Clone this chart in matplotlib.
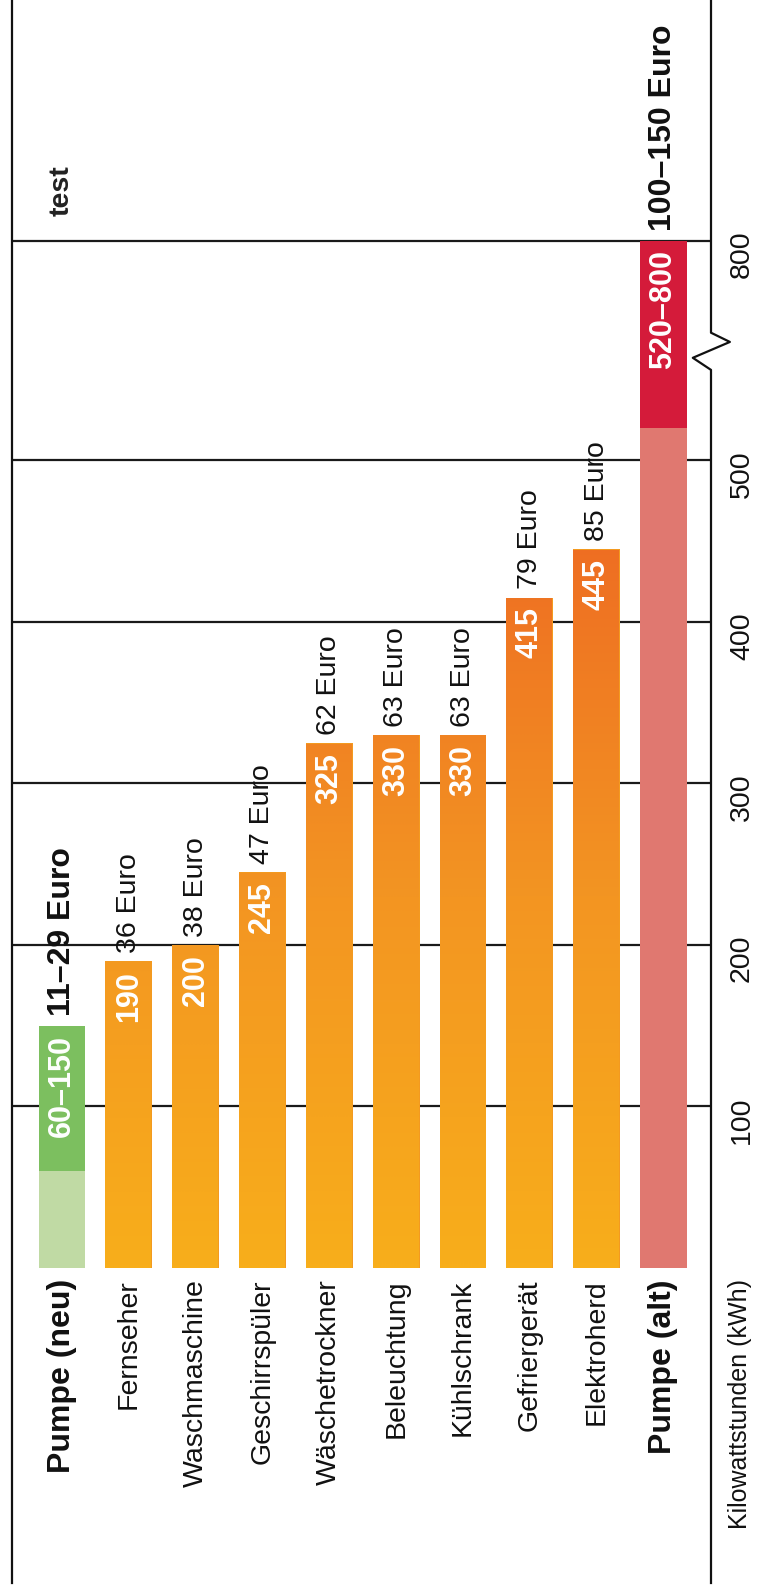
import numpy as np
import matplotlib
matplotlib.use('Agg')
import matplotlib.pyplot as plt
from matplotlib.colors import LinearSegmentedColormap

plt.rcParams['font.family'] = ['Liberation Sans', 'DejaVu Sans']

# data
appliances = ['Fernseher', 'Waschmaschine', 'Geschirrspüler', 'Wäschetrockner',
              'Beleuchtung', 'Kühlschrank', 'Gefriergerät', 'Elektroherd']
appliance_kwh = [190, 200, 245, 325, 330, 330, 415, 445]
appliance_euro = [36, 38, 47, 62, 63, 63, 79, 85]
pump_labels = ['Pumpe (neu)', 'Pumpe (alt)']
pump_kwh_min = [60, 520]
pump_kwh_max = [150, 800]
pump_euro = ['11–29', '100–150']
grid_ticks = [100, 200, 300, 400, 500, 800]

# broken axis: everything above BREAK is squeezed
BREAK = 560
K = 0.317


def fwd(v):
    v = np.asarray(v, dtype=float)
    return np.where(v <= BREAK, v, BREAK + (v - BREAK) * K)


def inv(u):
    u = np.asarray(u, dtype=float)
    return np.where(u <= BREAK, u, BREAK + (u - BREAK) / K)


fig = plt.figure(figsize=(7.59, 15.92), dpi=100)
ax = fig.add_axes([12 / 759, 9 / 1592, 699 / 759, 1583 / 1592])
ax.set_yscale('function', functions=(fwd, inv))

width = 0.70
fs = 20.5      # regular text
fs_b = 23      # bold pump texts
fs_in = 22     # white numbers in the bars

# pumps (two-tone bars)
pump_x = [0, 9]
pump_colors = [('#c0daa4', '#7cbf5f'), ('#e07870', '#d41b3a')]
for x, lo, hi, (c1, c2) in zip(pump_x, pump_kwh_min, pump_kwh_max, pump_colors):
    ax.bar(x, lo, width=width, color=c1, zorder=2)
    ax.bar(x, hi - lo, bottom=lo, width=width, color=c2, zorder=2)

# appliances with orange gradient
cmap = LinearSegmentedColormap.from_list('og', ['#f8ae1b', '#f39522', '#ee6c22'])
top_val = 460.0
for i, v in enumerate(appliance_kwh):
    x = i + 1
    bars = ax.bar(x, v, width=width, color='#f39a20', zorder=2)
    grad = np.linspace(0, v / top_val, 200).reshape(-1, 1)
    im = ax.imshow(grad, cmap=cmap, vmin=0, vmax=1, origin='lower', aspect='auto',
                   extent=(x - width / 2, x + width / 2, 0, v), zorder=2.5,
                   interpolation='bilinear')
    im.set_clip_path(bars[0])

ax.set_xlim(-0.748, 9.711)
ax.set_ylim(-195, float(inv(785)))

# labels for the appliances
for i, v in enumerate(appliance_kwh):
    ax.annotate(str(v), xy=(i + 1, v), xytext=(0, -7), textcoords='offset points',
                rotation=90, ha='center', va='top', color='white', fontsize=fs_in,
                fontweight='bold', zorder=4)
    ax.annotate(f'{appliance_euro[i]} Euro', xy=(i + 1, v), xytext=(0, 6),
                textcoords='offset points', rotation=90, ha='center', va='bottom',
                color='#111111', fontsize=fs, zorder=4)
    ax.annotate(appliances[i], xy=(i + 1, 0), xytext=(0, -8), textcoords='offset points',
                rotation=90, ha='center', va='top', color='#111111', fontsize=fs)

# labels for the pumps
for x, lo, hi, eur, name in zip(pump_x, pump_kwh_min, pump_kwh_max, pump_euro, pump_labels):
    ax.annotate(f'{lo}–{hi}', xy=(x, hi), xytext=(0, -7), textcoords='offset points',
                rotation=90, ha='center', va='top', color='white', fontsize=fs_in,
                fontweight='bold', zorder=4)
    ax.annotate(f'{eur} Euro', xy=(x, hi), xytext=(0, 7), textcoords='offset points',
                rotation=90, ha='center', va='bottom', color='#111111', fontsize=fs_b,
                fontweight='bold', zorder=4)
    ax.annotate(name, xy=(x, 0), xytext=(0, -8), textcoords='offset points',
                rotation=90, ha='center', va='top', color='#111111', fontsize=fs_b,
                fontweight='bold')

ax.text(0, 847, 'test', rotation=90, ha='center', va='bottom', fontsize=fs,
        fontweight='bold', color='#222222')

# grid + axis
ax.set_yticks(grid_ticks)
ax.set_yticklabels([str(t) for t in grid_ticks])
ax.set_xticks([])
ax.grid(axis='y', color='#1a1a1a', lw=1.6, zorder=0)
ax.set_axisbelow(True)
ax.yaxis.tick_right()
ax.tick_params(axis='y', length=0, pad=13, labelrotation=90, labelsize=fs,
               labelcolor='#111111')
for s in ['top', 'bottom', 'right']:
    ax.spines[s].set_visible(False)
ax.spines['left'].set_color('#111111')
ax.spines['left'].set_linewidth(1.6)

# right line with the break zigzag
ylo, yhi = ax.get_ylim()
ax.plot([1, 1, 0.974, 1.027, 1, 1], [ylo, 556, 571, 602, 620, yhi], color='#111111',
        lw=1.6, transform=ax.get_yaxis_transform(), clip_on=False, zorder=5)

ax.annotate('Kilowattstunden (kWh)', xy=(1, 0), xycoords=('axes fraction', 'data'),
            xytext=(21, -8), textcoords='offset points', rotation=90, ha='center',
            va='top', fontsize=18, color='#111111')

fig.savefig('out.png', dpi=100)
